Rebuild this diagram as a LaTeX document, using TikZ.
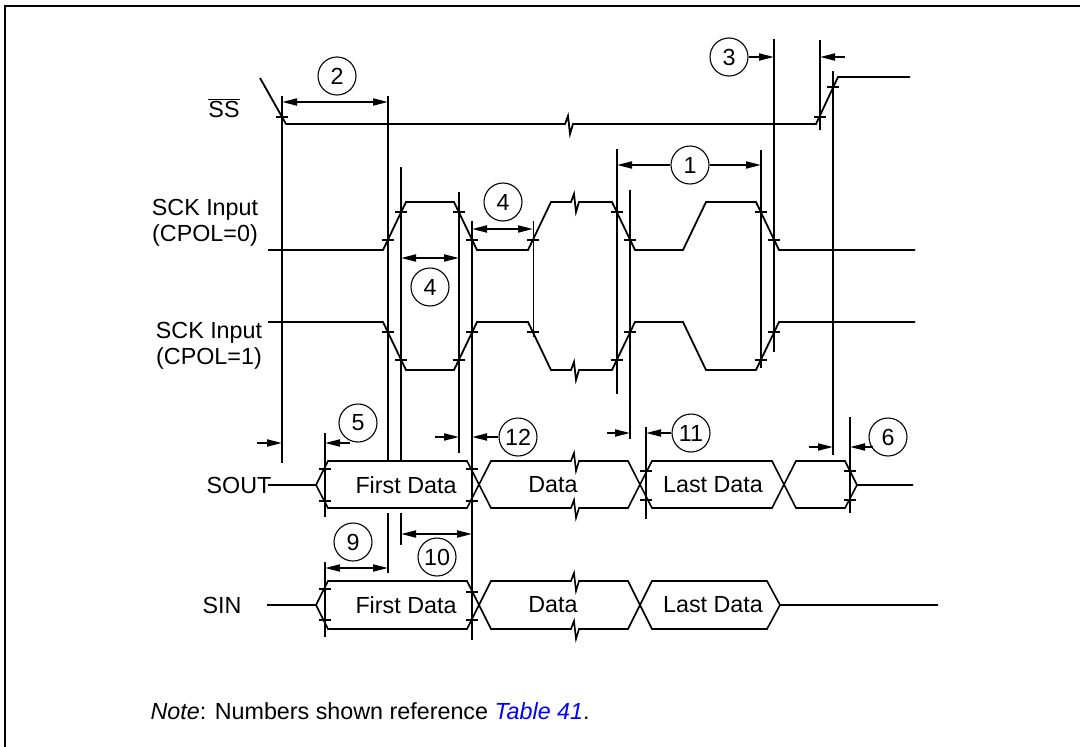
\documentclass[tikz,border=0pt]{standalone}
\usepackage{fontspec}
\setmainfont{Liberation Sans}
\usetikzlibrary{arrows.meta}

\tikzset{
  sig/.style={line width=1.8pt},
  bus/.style={line width=1.6pt},
  guide/.style={line width=1.8pt},
  tick/.style={line width=1.6pt},
  num/.style={draw,circle,line width=1.1pt,minimum size=38pt,inner sep=0pt},
  dim/.style={line width=1.8pt,-{Triangle[length=15pt,width=7pt]}},
  dimboth/.style={line width=1.8pt,{Triangle[length=15pt,width=7pt]}-{Triangle[length=15pt,width=7pt]}},
  brk/.style 2 args={insert path={-- (#1,#2) -- ++(3,-8) -- ++(2,18) -- ++(3,-10)}}
}

\begin{document}
\begin{tikzpicture}[x=1pt,y=-1pt,every node/.style={font=\fontsize{23.3}{26}\selectfont}]

\useasboundingbox (0,0) rectangle (1080,747);

% frame
\draw[line width=2pt] (5,760) -- (5,6) -- (1090,6);

% guide lines
\coordinate (gSS) at (282,0);
\coordinate (gN) at (325,0);
\coordinate (gA) at (388,0);
\coordinate (gB) at (401,0);
\coordinate (gC) at (459,0);
\coordinate (gD) at (472,0);
\coordinate (gE) at (533,0);
\coordinate (gF) at (617,0);
\coordinate (gG) at (630,0);
\coordinate (gH) at (646,0);
\coordinate (gI) at (761,0);
\coordinate (gJ) at (774,0);
\coordinate (gK) at (820,0);
\coordinate (gL) at (833,0);
\coordinate (gM) at (850,0);

\foreach \x/\a/\b in {282/96/463, 388/96/461, 388/513/573, 401/167/461, 401/513/545,
  459/192/453, 472/221/640, 617/149/394, 630/190/439, 646/427/519, 761/150/368,
  774/39/352, 820/40/130, 833/71/455, 850/417/513, 325/433/517, 325/562/637}
  \draw[guide] (\x,\a) -- (\x,\b);
\draw[line width=0.9pt] (533,221) -- (533,337);

% SS
\node (ss) at (224,108) {$\overline{\mbox{SS}}$};
\draw[sig] (260,78) -- (286,124) [brk={565}{124}] -- (816,124) -- (838,77) -- (910,77);

% SCK
\node[align=center] (sck0) at (205,223) {SCK Input\\(CPOL=0)};
\node[align=center] (sck1) at (209,346) {SCK Input\\(CPOL=1)};
\draw[sig] (268,250) -- (383,250) -- (406,202) -- (454,202) -- (477,250) -- (528,250) -- (551,202)
  [brk={571}{202}] -- (612,202) -- (635,250) -- (683,250) -- (706,202) -- (756,202) -- (779,250) -- (915,250);
\draw[sig] (268,322) -- (383,322) -- (406,370) -- (454,370) -- (477,322) -- (528,322) -- (551,370)
  [brk={571}{370}] -- (612,370) -- (635,322) -- (683,322) -- (706,370) -- (756,370) -- (779,322) -- (915,322);

% SOUT
\node (sout) at (239,485) {SOUT};
\draw[bus] (268,485) -- (316,485) -- (328,461) -- (467,461) -- (491,508) [brk={571}{508}] -- (628,508)
  -- (652,461) -- (772,461) -- (796,508) -- (845,508) -- (857,485) -- (913,485);
\draw[bus] (316,485) -- (328,508) -- (467,508) -- (491,461) [brk={571}{461}] -- (628,461)
  -- (652,508) -- (772,508) -- (796,461) -- (845,461) -- (857,485);
\node (o1) at (406,485) {First Data};
\node (o2) at (553,485) {Data};
\node (o3) at (713,485) {Last Data};

% SIN
\node (sin) at (222,605) {SIN};
\draw[bus] (267,605) -- (316,605) -- (328,581) -- (467,581) -- (491,629) [brk={571}{629}] -- (628,629)
  -- (652,581) -- (767,581) -- (780,605) -- (938,605);
\draw[bus] (316,605) -- (328,629) -- (467,629) -- (491,581) [brk={571}{581}] -- (628,581)
  -- (652,629) -- (767,629) -- (780,605);
\node (i1) at (406,605) {First Data};
\node (i2) at (553,605) {Data};
\node (i3) at (713,605) {Last Data};

% ticks
\foreach \x/\y in {282/117, 820/117, 833/87,
  388/240, 401/212, 459/212, 472/240, 533/240, 617/212, 630/240, 761/212, 774/240,
  388/332, 401/360, 459/360, 472/332, 533/332, 617/360, 630/332, 761/360, 774/332,
  325/469, 325/501, 472/469, 472/501, 646/471, 646/500, 850/471, 850/500,
  325/589, 325/620, 472/592, 472/620}
  \draw[tick] (\x-6,\y) -- (\x+6,\y);

% numbers
\node[num] (n1) at (690,165) {1};
\node[num] (n2) at (337,76) {2};
\node[num] (n3) at (729,57) {3};
\node[num] (n4a) at (503,202) {4};
\node[num] (n4b) at (430,287) {4};
\node[num] (n5) at (358,423) {5};
\node[num] (n6) at (888,437) {6};
\node[num] (n9) at (353,542) {9};
\node[num] (n10) at (437,557) {10};
\node[num] (n11) at (691,433) {11};
\node[num] (n12) at (518,437) {12};

\coordinate (s3) at (845,57);
\coordinate (s5) at (350,443);
\coordinate (s5b) at (257,443);
\coordinate (s12) at (435,437);
\coordinate (s11) at (607,433);
\coordinate (s6) at (873,447);
\coordinate (s6b) at (809,447);

\draw[dim] (n1.west) -- (n1 -| gF);
\draw[dim] (n1.east) -- (n1 -| gI);
\draw[dimboth] (gSS |- 0,102) -- (gA |- 0,102);
\draw[dim] (n3.east) -- (n3 -| gJ);
\draw[dim] (s3) -- (s3 -| gK);
\draw[dimboth] (gD |- 0,229) -- (gE |- 0,229);
\draw[dimboth] (gB |- 0,258) -- (gC |- 0,258);
\draw[dim] (s5) -- (s5 -| gN);
\draw[dim] (s5b) -- (s5b -| gSS);
\draw[dim] (n12.west) -- (n12 -| gD);
\draw[dim] (s12) -- (s12 -| gC);
\draw[dim] (n11.west) -- (n11 -| gH);
\draw[dim] (s11) -- (s11 -| gG);
\draw[dim] (s6) -- (s6 -| gM);
\draw[dim] (s6b) -- (s6b -| gL);
\draw[dimboth] (gN |- 0,568) -- (gA |- 0,568);
\draw[dimboth] (gB |- 0,534) -- (gD |- 0,534);

\node[anchor=west] (note) at (147,711) {\textit{Note}: Numbers shown reference \textcolor{blue}{\textit{Table 41}}.};

\end{tikzpicture}
\end{document}
